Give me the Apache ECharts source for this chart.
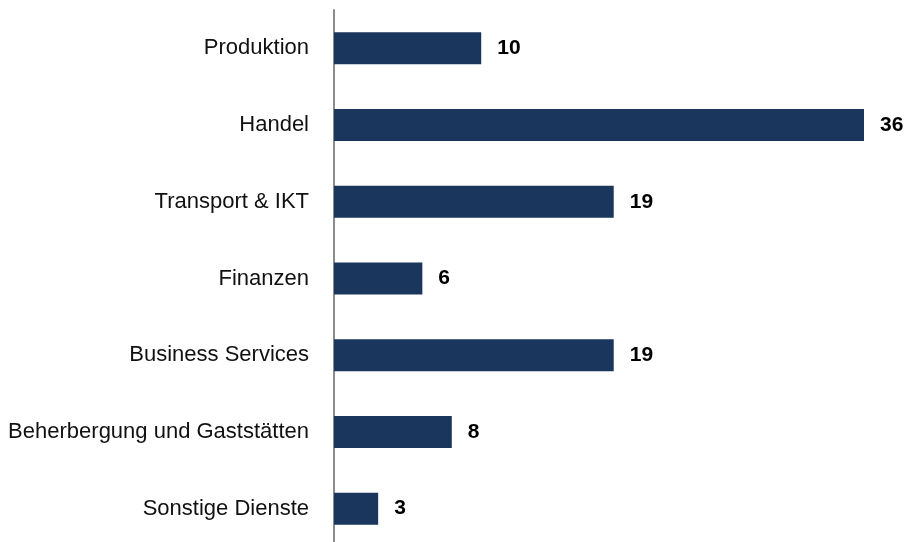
<!DOCTYPE html>
<html>
<head>
<meta charset="utf-8">
<script src="https://cdn.jsdelivr.net/npm/echarts@6/dist/echarts.min.js"></script>
<style>
html,body{margin:0;padding:0;background:#fff;}
#chart{width:908px;height:542px;}
</style>
</head>
<body>
<div id="chart"></div>
<script>
var categories = ['Produktion', 'Handel', 'Transport & IKT', 'Finanzen', 'Business Services', 'Beherbergung und Gaststätten', 'Sonstige Dienste'];
var values = [10, 36, 19, 6, 19, 8, 3];

var myChart = echarts.init(document.getElementById('chart'));
var option = {
    animation: false,
    grid: {
        left: 334,
        right: 44,
        top: 10,
        bottom: -5,
        containLabel: false,
        outerBoundsMode: 'none'
    },
    xAxis: {
        type: 'value',
        min: 0,
        max: 36,
        show: false
    },
    yAxis: {
        type: 'category',
        inverse: true,
        data: categories,
        axisLine: {
            lineStyle: { color: '#8c8c8c', width: 2 }
        },
        axisTick: { show: false },
        axisLabel: {
            color: '#111',
            fontFamily: '"Liberation Sans", Arial, sans-serif',
            fontSize: 22,
            margin: 25
        }
    },
    series: [
        {
            type: 'bar',
            data: values,
            barWidth: 32,
            itemStyle: { color: '#1a365d' },
            label: {
                show: true,
                position: 'right',
                distance: 16,
                color: '#000',
                fontWeight: 'bold',
                fontFamily: '"Liberation Sans", Arial, sans-serif',
                fontSize: 21
            }
        }
    ]
};
myChart.setOption(option);
</script>
</body>
</html>
